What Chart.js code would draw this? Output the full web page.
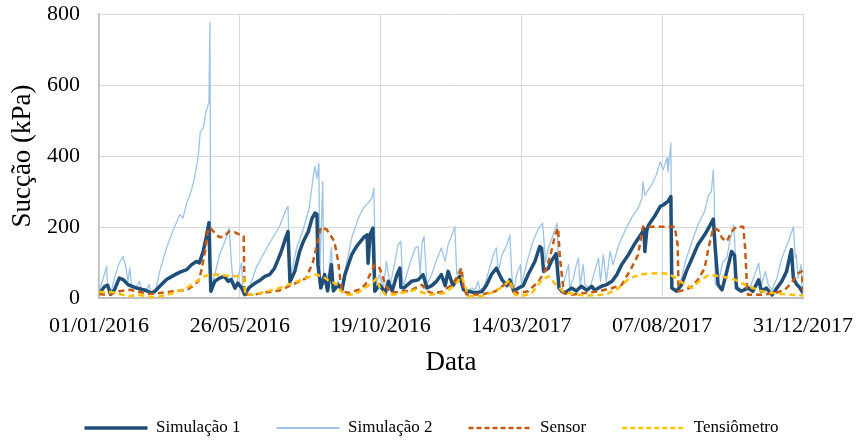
<!DOCTYPE html>
<html><head><meta charset="utf-8">
<script src="https://cdn.jsdelivr.net/npm/chart.js@4.4.1/dist/chart.umd.min.js"></script>
<style>html,body{margin:0;padding:0;background:#fff}#wrap{width:858px;height:441px}</style>
</head><body><div id="wrap"><canvas id="c" width="858" height="441"></canvas></div>
<script>
// x = days since 01/01/2016
const dateLabels = ['01/01/2016','26/05/2016','19/10/2016','14/03/2017','07/08/2017','31/12/2017'];
const seriesNames = ['Simulação 1','Simulação 2','Sensor','Tensiômetro'];

const sim1 = [[0,12],[6,33],[9,36],[12,10],[16,23],[21,56],[25,52],[30,38],[39,28],[49,21],[54,14],[58,19],[63,33],[70,52],[77,63],[84,73],[91,80],[96,94],[101,103],[104,99],[108,131],[111,169],[114,212],[115,103],[116,19],[120,47],[125,56],[130,61],[134,47],[137,52],[141,28],[144,42],[148,28],[151,10],[156,30],[162,42],[167,50],[172,61],[177,66],[182,84],[186,110],[189,131],[193,165],[196,187],[198,45],[203,75],[208,131],[212,160],[217,187],[221,225],[224,239],[226,236],[227,94],[230,28],[234,66],[237,20],[241,94],[243,20],[248,37],[252,23],[255,66],[262,122],[267,145],[271,159],[275,172],[278,178],[279,98],[281,178],[284,197],[286,19],[291,37],[297,15],[300,47],[304,20],[309,66],[312,84],[313,30],[316,28],[324,47],[331,51],[336,66],[340,28],[345,35],[350,47],[355,66],[359,35],[362,75],[367,35],[374,61],[378,23],[383,19],[390,15],[397,18],[402,37],[407,66],[412,84],[418,51],[423,35],[426,51],[430,19],[435,28],[440,35],[445,66],[452,103],[457,145],[459,140],[461,75],[466,84],[469,103],[474,125],[477,28],[480,19],[483,14],[490,28],[495,20],[500,33],[506,22],[511,33],[514,22],[521,33],[526,37],[532,47],[537,66],[542,94],[549,122],[556,155],[563,183],[565,195],[566,131],[568,190],[570,206],[577,234],[582,258],[585,262],[590,272],[593,286],[594,28],[599,19],[604,37],[609,75],[615,112],[621,150],[628,178],[632,197],[637,222],[639,140],[642,37],[646,23],[651,75],[656,131],[659,120],[661,28],[666,19],[673,28],[678,19],[684,51],[687,19],[692,28],[698,9],[703,28],[708,47],[713,75],[717,126],[718,136],[720,56],[723,40],[727,28],[730,14]];

const sim2 = [[0,19],[4,52],[8,89],[9,28],[12,10],[16,56],[21,99],[25,117],[28,85],[30,47],[32,85],[34,28],[39,33],[42,47],[44,20],[49,23],[52,38],[54,10],[58,12],[63,75],[70,141],[77,192],[84,235],[87,225],[91,268],[96,305],[99,338],[103,400],[105,468],[108,477],[111,524],[112,533],[114,552],[115,776],[116,19],[120,66],[125,122],[130,155],[134,188],[135,197],[137,113],[139,38],[142,30],[146,80],[148,99],[149,30],[151,5],[156,28],[163,85],[172,131],[180,169],[187,200],[194,249],[196,258],[198,56],[205,141],[212,195],[218,254],[222,340],[224,370],[226,337],[228,379],[229,75],[232,328],[233,37],[238,66],[241,141],[243,20],[248,47],[252,20],[255,75],[262,169],[269,225],[274,253],[279,267],[283,281],[285,309],[287,37],[291,66],[295,28],[298,103],[302,37],[307,103],[310,150],[313,159],[315,40],[316,37],[323,103],[328,141],[331,145],[333,66],[335,155],[337,173],[340,37],[345,66],[350,108],[355,141],[359,103],[362,150],[366,178],[369,201],[371,66],[374,84],[378,28],[381,19],[387,28],[390,23],[393,47],[395,23],[399,28],[404,75],[409,122],[412,141],[414,75],[418,122],[423,150],[426,178],[428,66],[430,19],[433,66],[437,94],[438,37],[444,103],[450,159],[456,197],[460,211],[463,103],[466,141],[471,178],[475,211],[477,37],[480,19],[483,56],[487,94],[488,28],[492,56],[495,94],[497,112],[499,37],[502,94],[504,37],[509,28],[514,75],[518,112],[520,47],[523,122],[526,47],[530,131],[533,94],[539,150],[545,187],[552,225],[559,253],[563,281],[564,328],[566,290],[573,319],[578,347],[582,384],[585,361],[589,394],[590,356],[593,436],[594,28],[599,23],[604,56],[609,112],[615,159],[621,206],[628,244],[632,290],[635,300],[637,361],[638,290],[639,37],[644,66],[647,103],[651,112],[654,159],[658,206],[659,169],[661,37],[666,19],[672,37],[675,28],[680,66],[684,98],[687,37],[691,75],[694,37],[698,23],[703,56],[708,112],[715,159],[720,201],[722,112],[723,122],[725,56],[728,94],[729,28],[730,20]];

const sensor = [[0,11],[8,9],[13,11],[21,19],[32,23],[42,17],[53,11],[63,14],[77,19],[91,23],[97,33],[103,47],[106,75],[110,131],[113,192],[115,199],[120,183],[125,171],[130,174],[135,188],[141,185],[146,178],[150,174],[151,9],[160,9],[174,16],[187,21],[201,38],[215,56],[222,103],[226,150],[230,199],[236,193],[244,160],[248,103],[250,56],[252,19],[259,14],[269,23],[276,37],[281,66],[286,94],[291,84],[297,37],[302,15],[310,17],[317,20],[321,19],[335,37],[340,20],[345,14],[355,17],[366,37],[373,66],[376,84],[378,30],[381,10],[397,10],[411,19],[425,47],[430,19],[435,14],[445,19],[456,47],[464,84],[469,131],[473,178],[476,197],[478,112],[482,14],[490,9],[504,14],[518,19],[532,28],[542,37],[552,84],[559,122],[564,201],[597,201],[600,150],[601,19],[608,23],[615,33],[621,51],[628,84],[632,141],[637,197],[642,192],[646,169],[651,159],[656,187],[661,201],[668,201],[670,141],[672,28],[673,9],[687,9],[701,14],[711,23],[718,42],[725,70],[729,75],[730,15]];

const tens = [[0,17],[13,17],[21,11],[32,5],[42,9],[53,2],[63,4],[77,14],[91,28],[101,47],[111,63],[122,66],[132,63],[146,61],[150,56],[152,9],[160,9],[174,19],[187,28],[201,42],[215,56],[225,66],[232,61],[239,47],[246,40],[250,23],[255,9],[265,10],[276,28],[285,47],[288,56],[291,30],[297,9],[307,10],[328,23],[342,9],[359,14],[369,37],[376,61],[380,30],[383,5],[397,5],[411,19],[421,37],[426,51],[431,10],[438,5],[449,14],[459,51],[466,61],[474,37],[481,19],[495,9],[508,7],[526,10],[539,28],[550,56],[563,67],[580,70],[591,68],[598,56],[608,37],[615,28],[622,47],[632,65],[646,61],[660,51],[673,33],[687,19],[704,12],[730,7]];

const toXY = arr => arr.map(p => ({x: p[0], y: p[1]}));
const serif = "'Liberation Serif','Times New Roman',serif";

const legendShift = {
  id: 'legendShift',
  afterLayout(chart) { const l = chart.legend; if (l) { l.left += 30; l.right += 30; } }
};

new Chart(document.getElementById('c'), {
  type: 'line',
  data: {
    datasets: [
      {label: seriesNames[0], data: toXY(sim1), borderColor: '#1F4E79', backgroundColor: '#1F4E79', borderWidth: 3.5, order: 2},
      {label: seriesNames[1], data: toXY(sim2), borderColor: '#9DC3E6', backgroundColor: '#9DC3E6', borderWidth: 1.3, order: 3},
      {label: seriesNames[2], data: toXY(sensor), borderColor: '#C55A11', backgroundColor: '#C55A11', borderWidth: 2.5, borderDash: [6,4], order: 1},
      {label: seriesNames[3], data: toXY(tens), borderColor: '#FFC000', backgroundColor: '#FFC000', borderWidth: 2.5, borderDash: [6,4], order: 0}
    ]
  },
  options: {
    responsive: false,
    animation: false,
    layout: {padding: {left: 0, right: 55, top: 14, bottom: -5.5}},
    elements: {point: {radius: 0}, line: {tension: 0, borderJoinStyle: 'round'}},
    plugins: {
      tooltip: {enabled: false},
      legend: {
        position: 'bottom',
        labels: {
          usePointStyle: true, pointStyle: 'line', pointStyleWidth: 63,
          padding: 36, color: '#000',
          font: {family: serif, size: 17},
          sort: (a, b) => a.datasetIndex - b.datasetIndex,
          generateLabels: chart => {
            const items = Chart.defaults.plugins.legend.labels.generateLabels(chart);
            items.forEach(it => {
              const ds = chart.data.datasets[it.datasetIndex];
              it.lineDash = ds.borderDash ? [5, 3] : [];
              it.lineWidth = ds.datasetIndex === 1 ? 2 : (ds.borderWidth === 1.3 ? 2 : ds.borderWidth);
              it.strokeStyle = ds.borderColor;
            });
            return items;
          }
        }
      }
    },
    scales: {
      x: {
        type: 'linear', min: 0, max: 730,
        afterFit: s => { s.height = 85.5; s.paddingLeft = 0; s.paddingRight = 0; s.paddingTop = 0; s.paddingBottom = 0; },
        ticks: {stepSize: 146, padding: 15, color: '#000', font: {family: serif, size: 22},
          maxRotation: 0, autoSkip: false,
          callback: v => dateLabels[Math.round(v / 146)]},
        grid: {color: '#d9d9d9', lineWidth: 1, drawTicks: false},
        border: {color: '#bfbfbf', width: 2},
        title: {display: true, text: 'Data', color: '#000', font: {family: serif, size: 27}, padding: {top: 0, bottom: 4.3}}
      },
      y: {
        min: 0, max: 800,
        afterFit: s => { s.width = 99; s.paddingLeft = 0; s.paddingRight = 0; s.paddingTop = 0; s.paddingBottom = 0; },
        ticks: {stepSize: 200, padding: 19, color: '#000', font: {family: serif, size: 22}},
        grid: {color: '#d9d9d9', lineWidth: 1, drawTicks: false},
        border: {color: '#bfbfbf', width: 1.5},
        title: {display: true, text: 'Sucção (kPa)', color: '#000', font: {family: serif, size: 27}, padding: {top: 7, bottom: 0}}
      }
    }
  },
  plugins: [legendShift]
});
</script></body></html>
